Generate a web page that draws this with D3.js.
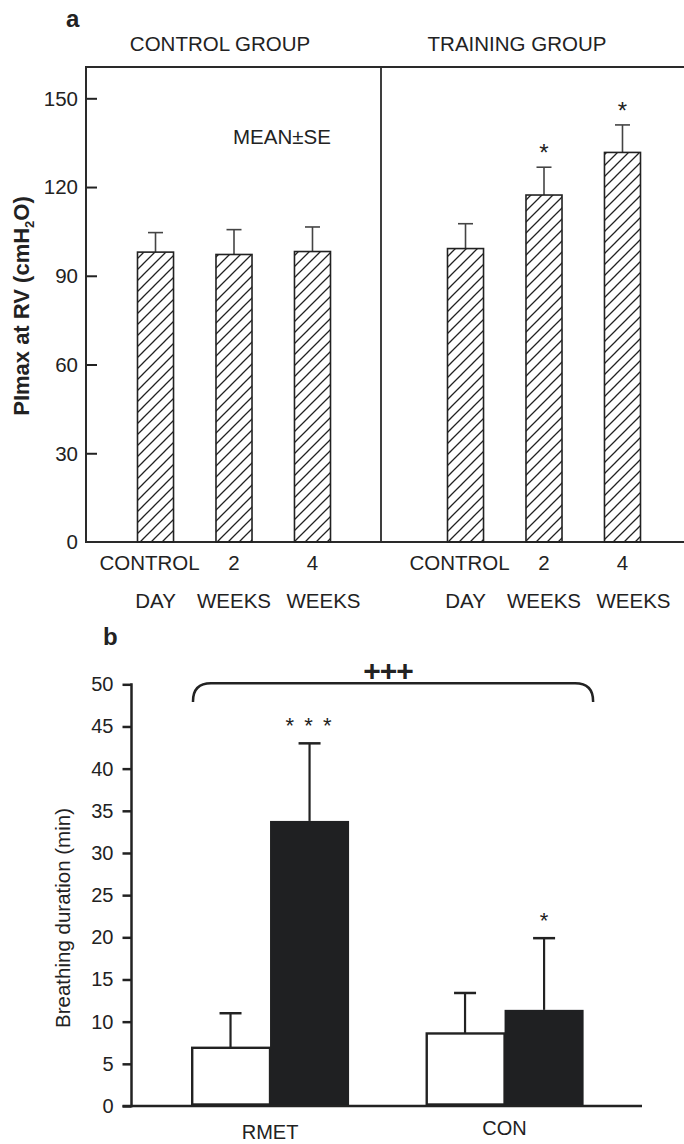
<!DOCTYPE html>
<html><head><meta charset="utf-8">
<script src="https://cdn.jsdelivr.net/npm/d3@7"></script>
<style>
html,body{margin:0;padding:0;background:#fff;}
svg{display:block;}
text{font-family:"Liberation Sans", Arial, Helvetica, sans-serif; fill:#222;}
</style>
</head><body>
<svg id="c" width="684" height="1144"></svg>
<script>
// ---------- Panel a data ----------
const groupsA = ["CONTROL GROUP", "TRAINING GROUP"];
const periodsA = ["CONTROL DAY", "2 WEEKS", "4 WEEKS"];
const periodTop = ["CONTROL", "2", "4"];
const periodBottom = ["DAY", "WEEKS", "WEEKS"];
const controlMean = [98.0, 97.2, 98.2];
const controlSE = [6.6, 8.4, 8.3];
const trainingMean = [99.2, 117.3, 131.7];
const trainingSE = [8.4, 9.4, 9.3];
const trainingSig = ["", "*", "*"];
const ticksA = [30, 60, 90, 120, 150];
const tickLabelsA = ["0", "30", "60", "90", "120", "150"];

// ---------- Panel b data ----------
const groupsB = ["RMET", "CON"];
const seriesB = ["pre", "post"];
const preMean = [6.9, 8.6];
const preErr = [4.1, 4.8];
const postMean = [33.8, 11.4];
const postErr = [9.2, 8.5];
const postSig = ["* * *", "*"];
const ticksB = [0, 5, 10, 15, 20, 25, 30, 35, 40, 45, 50];

const svg = d3.select("#c");
svg.append("rect").attr("width", 684).attr("height", 1144).attr("fill", "#fff");
const ink = "#222";

// hatch pattern
const hs = 11;
svg.append("defs").append("pattern")
  .attr("id", "hatch").attr("patternUnits", "userSpaceOnUse")
  .attr("width", hs).attr("height", hs)
  .append("path")
  .attr("d", `M0,${hs} L${hs},0 M-1,1 L1,-1 M${hs-1},${hs+1} L${hs+1},${hs-1}`)
  .attr("stroke", ink).attr("stroke-width", 1.3);

// ================= PANEL A =================
const aLeft = 86, aDiv = 381, aRight = 684, aTop = 67;
const yA = d3.scaleLinear().domain([0, 150]).range([542, 98.3]);
const xA1 = d3.scaleBand().domain(periodsA).range([137.5, 330.5]).paddingInner(0.541).paddingOuter(0);
const xA2 = d3.scaleBand().domain(periodsA).range([447.5, 640.5]).paddingInner(0.541).paddingOuter(0);

const gA = svg.append("g");
gA.append("text").attr("x", 66).attr("y", 27).attr("font-size", 24).attr("font-weight", "bold").text("a");

// group titles
gA.append("text").attr("x", 220).attr("y", 51).attr("text-anchor", "middle").attr("font-size", 20.5).text(groupsA[0]);
gA.append("text").attr("x", 517).attr("y", 51).attr("text-anchor", "middle").attr("font-size", 20.5).text(groupsA[1]);

// y axis (ticks inside)
const axA = d3.axisRight(yA).tickValues(ticksA).tickSize(11).tickFormat("");
const axAg = gA.append("g").attr("transform", `translate(${aLeft},0)`).call(axA);
axAg.select(".domain").remove();
axAg.selectAll("line").attr("stroke", ink).attr("stroke-width", 2);
gA.selectAll(".tlA").data([0].concat(ticksA)).join("text")
  .attr("x", 78).attr("y", d => yA(d)).attr("dy", "0.36em")
  .attr("text-anchor", "end").attr("font-size", 20.5)
  .text((d, i) => tickLabelsA[i]);

// y title
const yt = gA.append("text").attr("transform", "translate(28.5,306) rotate(-90)")
  .attr("text-anchor", "middle").attr("font-size", 22).attr("font-weight", "bold");
yt.append("tspan").text("PImax at RV (cmH");
yt.append("tspan").attr("font-size", 13).attr("dy", 5).text("2");
yt.append("tspan").attr("dy", -5).text("O)");

// frame
const frame = gA.append("g").attr("stroke", "#2a2a2a").attr("stroke-width", 2).attr("fill", "none");
frame.append("path").attr("d", `M${aRight},${aTop} H${aLeft} V${yA(0)} H${aRight}`);
frame.append("line").attr("x1", aDiv).attr("x2", aDiv).attr("y1", aTop).attr("y2", yA(0)).attr("stroke-width", 1.8);

// MEAN±SE
gA.append("text").attr("x", 233).attr("y", 144).attr("font-size", 20.5).text("MEAN±SE");

function drawHatchedBars(scale, means, ses, sig) {
  const g = gA.append("g");
  const d = periodsA.map((p, i) => ({p, m: means[i], e: ses[i], s: sig ? sig[i] : ""}));
  g.selectAll(".eb").data(d).join("line")
    .attr("x1", v => scale(v.p) + scale.bandwidth() / 2).attr("x2", v => scale(v.p) + scale.bandwidth() / 2)
    .attr("y1", v => yA(v.m)).attr("y2", v => yA(v.m + v.e))
    .attr("stroke", "#444").attr("stroke-width", 1.6);
  g.selectAll(".cap").data(d).join("line")
    .attr("x1", v => scale(v.p) + scale.bandwidth() / 2 - 7.5).attr("x2", v => scale(v.p) + scale.bandwidth() / 2 + 7.5)
    .attr("y1", v => yA(v.m + v.e)).attr("y2", v => yA(v.m + v.e))
    .attr("stroke", "#444").attr("stroke-width", 1.6);
  g.selectAll(".bar").data(d).join("rect")
    .attr("x", v => scale(v.p)).attr("width", scale.bandwidth())
    .attr("y", v => yA(v.m)).attr("height", v => yA(0) - yA(v.m))
    .attr("fill", "url(#hatch)").attr("stroke", ink).attr("stroke-width", 1.6);
  g.selectAll(".sig").data(d.filter(v => v.s)).join("text")
    .attr("x", v => scale(v.p) + scale.bandwidth() / 2).attr("y", v => yA(v.m + v.e) - 6)
    .attr("text-anchor", "middle").attr("font-size", 24).text(v => v.s);
  // category labels
  g.selectAll(".l1").data(d).join("text")
    .attr("x", (v, i) => scale(v.p) + scale.bandwidth() / 2 + (i === 0 ? -6 : 0))
    .attr("y", 570).attr("text-anchor", "middle").attr("font-size", 20.5)
    .text((v, i) => periodTop[i]);
  g.selectAll(".l2").data(d).join("text")
    .attr("x", (v, i) => scale(v.p) + scale.bandwidth() / 2 + (i === 2 ? 11 : 0))
    .attr("y", 608).attr("text-anchor", "middle").attr("font-size", 20.5)
    .text((v, i) => periodBottom[i]);
}
drawHatchedBars(xA1, controlMean, controlSE, null);
drawHatchedBars(xA2, trainingMean, trainingSE, trainingSig);

// ================= PANEL B =================
const gB = svg.append("g");
const bLeft = 131.5;
const yB = d3.scaleLinear().domain([0, 50]).range([1106, 684.3]);
const xB = d3.scaleBand().domain(groupsB).range([191, 583.6]).paddingInner(0.326).paddingOuter(0);
const xBs = d3.scaleBand().domain(seriesB).range([0, xB.bandwidth()]);

gB.append("text").attr("x", 103).attr("y", 645).attr("font-size", 24).attr("font-weight", "bold").text("b");

const axB = d3.axisLeft(yB).tickValues(ticksB).tickSize(9).tickPadding(6);
const axBg = gB.append("g").attr("transform", `translate(${bLeft},0)`).call(axB);
axBg.select(".domain").remove();
axBg.selectAll("line").attr("stroke", ink).attr("stroke-width", 2.5);
axBg.selectAll("text").attr("font-size", 20).attr("fill", ink)
  .attr("font-family", '"Liberation Sans", Arial, sans-serif').attr("x", -18);
gB.append("line").attr("x1", bLeft).attr("x2", bLeft).attr("y1", yB(50) - 1).attr("y2", yB(0) + 1.2)
  .attr("stroke", ink).attr("stroke-width", 2.5);

gB.append("text").attr("transform", "translate(70,918) rotate(-90)")
  .attr("text-anchor", "middle").attr("font-size", 20.5).text("Breathing duration (min)");

const dB = [];
groupsB.forEach((g, i) => {
  dB.push({g, s: "pre", m: preMean[i], e: preErr[i], sig: ""});
  dB.push({g, s: "post", m: postMean[i], e: postErr[i], sig: postSig[i]});
});
const cx = v => xB(v.g) + xBs(v.s) + xBs.bandwidth() / 2;

gB.selectAll(".ebB").data(dB).join("line")
  .attr("x1", cx).attr("x2", cx).attr("y1", v => yB(v.m)).attr("y2", v => yB(v.m + v.e))
  .attr("stroke", ink).attr("stroke-width", 2.2);
gB.selectAll(".capB").data(dB).join("line")
  .attr("x1", v => cx(v) - 11).attr("x2", v => cx(v) + 11)
  .attr("y1", v => yB(v.m + v.e)).attr("y2", v => yB(v.m + v.e))
  .attr("stroke", ink).attr("stroke-width", 2.5);
gB.selectAll(".barB").data(dB).join("rect")
  .attr("x", v => xB(v.g) + xBs(v.s) + (v.s === "pre" ? 1.2 : 0))
  .attr("width", v => xBs.bandwidth() - (v.s === "pre" ? 1.2 : 0))
  .attr("y", v => yB(v.m)).attr("height", v => yB(0) - yB(v.m) - (v.s === "pre" ? 1.5 : 0))
  .attr("fill", v => v.s === "pre" ? "#fff" : "#1f2022")
  .attr("stroke", v => v.s === "pre" ? ink : "none").attr("stroke-width", 2.4);
gB.selectAll(".sigB").data(dB.filter(v => v.sig)).join("text")
  .attr("x", cx).attr("y", v => yB(v.m + v.e) - 10)
  .attr("text-anchor", "middle").attr("font-size", 22)
  .attr("letter-spacing", v => v.sig.length > 1 ? 2 : 0)
  .text(v => v.sig);

// baseline
gB.append("line").attr("x1", bLeft - 9).attr("x2", 642).attr("y1", yB(0)).attr("y2", yB(0))
  .attr("stroke", ink).attr("stroke-width", 2.5);

// group labels
gB.selectAll(".glB").data(groupsB).join("text")
  .attr("x", g => xB(g) + xB.bandwidth() / 2)
  .attr("y", (g, i) => i === 0 ? 1139 : 1135)
  .attr("text-anchor", "middle").attr("font-size", 20).text(g => g);

// significance brace
const bx1 = xB(groupsB[0]) + 2, bx2 = xB(groupsB[1]) + xB.bandwidth() + 9.5;
const by = 683.3, bh = 702, r = 18;
gB.append("path")
  .attr("d", `M${bx1},${bh} L${bx1},${by + r} Q${bx1},${by} ${bx1 + r},${by} L${bx2 - r},${by} Q${bx2},${by} ${bx2},${by + r} L${bx2},${bh}`)
  .attr("fill", "none").attr("stroke", ink).attr("stroke-width", 2.5);
gB.append("text").attr("x", (bx1 + bx2) / 2 - 5).attr("y", 681).attr("text-anchor", "middle")
  .attr("font-size", 30).attr("font-weight", "bold").attr("letter-spacing", -1).text("+++");
</script>
</body></html>
